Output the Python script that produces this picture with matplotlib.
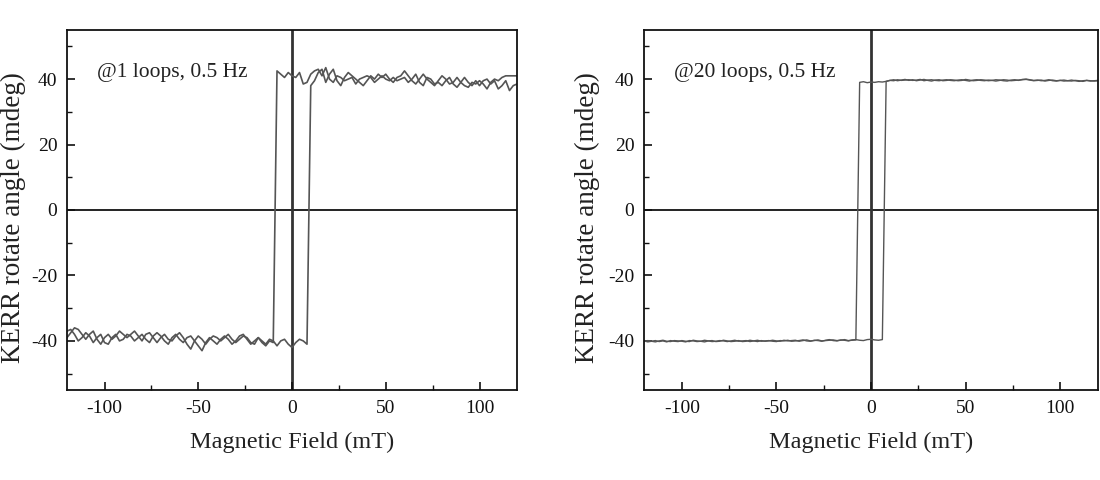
import numpy as np
import matplotlib
matplotlib.use("Agg")
import matplotlib.pyplot as plt
from matplotlib.ticker import MultipleLocator

plt.rcParams['font.family'] = ['Liberation Serif', 'DejaVu Serif']
plt.rcParams['axes.unicode_minus'] = False

# Magnetic field sampling grid (mT)
field = np.arange(-120, 121, 2)

# Left panel: @1 loops, 0.5 Hz
kerr1_up = [
    -39.0, -37.5, -36.0, -36.5, -38.0, -39.5, -38.0, -37.0, -39.5, -41.0,
    -39.0, -38.0, -39.5, -38.5, -37.0, -38.0, -39.0, -38.0, -37.0, -38.5,
    -40.0, -38.0, -37.5, -39.0, -40.5, -39.0, -38.0, -39.5, -40.0, -38.5,
    -37.5, -39.0, -41.0, -42.5, -40.0, -38.5, -39.5, -41.0, -39.5, -38.5,
    -39.0, -40.0, -39.0, -38.0, -39.5, -40.5, -39.5, -38.5, -39.0, -40.5,
    -41.0, -39.0, -40.0, -41.0, -39.5, -40.0, -41.5, -40.0, -39.5, -41.0,
    -42.0, -40.5, -39.5, -40.0, -41.0, 38.0, 39.5, 42.0, 43.0, 39.0,
    41.5, 43.0, 39.5, 38.0, 40.5, 42.0, 41.0, 40.0, 39.0, 38.0,
    39.5, 41.0, 40.0, 41.5, 40.5, 41.5, 40.0, 39.0, 40.5, 41.0,
    42.5, 41.0, 39.5, 38.5, 40.0, 41.5, 40.0, 39.0, 38.0, 39.5,
    41.0, 40.0, 38.5, 39.0, 40.5, 39.0, 38.0, 37.5, 39.0, 38.5,
    39.5, 38.5, 37.0, 39.0, 40.0, 39.5, 40.5, 41.0, 41.0, 41.0,
    41.0,
]
kerr1_down = [
    -37.0, -36.5, -38.0, -40.0, -39.0, -37.5, -38.5, -40.5, -39.0, -38.0,
    -40.5, -41.0, -39.0, -38.0, -40.0, -39.5, -38.0, -38.5, -40.0, -39.0,
    -38.0, -39.5, -40.5, -38.5, -37.5, -38.5, -40.0, -41.0, -39.0, -38.0,
    -39.5, -40.5, -39.0, -38.5, -40.0, -41.5, -43.0, -40.5, -39.0, -40.0,
    -41.0, -39.5, -38.5, -39.5, -41.0, -40.0, -38.5, -38.0, -39.5, -41.0,
    -40.0, -39.0, -40.5, -41.5, -40.0, -40.5, 42.5, 41.5, 40.5, 42.0,
    41.0, 40.5, 42.0, 38.5, 39.0, 41.5, 42.5, 43.0, 41.0, 43.5,
    40.0, 39.0, 41.0, 40.5, 39.5, 40.0, 40.5, 38.5, 40.0, 40.5,
    41.0, 40.5, 39.0, 40.0, 41.0, 40.0, 39.5, 40.5, 39.5, 40.0,
    40.5, 39.0, 40.0, 41.5, 39.0, 38.0, 40.5, 40.0, 38.5, 39.0,
    38.0, 39.5, 40.5, 38.5, 37.5, 39.0, 40.5, 39.0, 38.0, 39.5,
    38.0, 39.5, 40.0, 38.5, 39.5, 37.0, 38.0, 39.5, 36.5, 38.0,
    38.5,
]

# Right panel: @20 loops, 0.5 Hz
kerr20_up = [
    -40.2, -39.9, -40.1, -40.3, -40.0, -39.8, -40.1, -40.2, -39.9, -40.0,
    -40.1, -40.3, -39.9, -40.0, -40.2, -40.1, -39.8, -40.0, -40.2, -40.1,
    -39.9, -40.0, -40.2, -40.0, -39.8, -40.1, -40.0, -39.9, -40.2, -40.0,
    -39.8, -40.1, -40.0, -39.9, -40.1, -40.2, -39.9, -40.0, -39.8, -40.1,
    -40.0, -39.9, -39.7, -40.0, -40.1, -39.8, -39.9, -40.1, -39.8, -39.6,
    -39.9, -40.0, -39.7, -39.8, -40.0, -39.7, -39.6, -39.8, -39.9, -39.6,
    -39.5, -39.7, -39.8, -39.6, 39.3, 39.6, 39.8, 39.5, 39.7, 39.9,
    39.6, 39.8, 39.5, 39.7, 39.9, 39.6, 39.4, 39.7, 39.8, 39.5,
    39.6, 39.8, 39.7, 39.5, 39.6, 39.9, 39.7, 39.5, 39.6, 39.8,
    39.7, 39.5, 39.6, 39.8, 39.7, 39.5, 39.4, 39.7, 39.8, 39.6,
    39.9, 40.0, 39.8, 39.6, 39.7, 39.5, 39.6, 39.8, 39.5, 39.4,
    39.6, 39.7, 39.5, 39.4, 39.6, 39.5, 39.3, 39.6, 39.5, 39.4,
    39.5,
]
kerr20_down = [
    -40.0, -40.3, -40.1, -39.9, -40.2, -40.0, -40.3, -39.9, -40.1, -40.2,
    -39.9, -40.1, -40.2, -39.8, -40.0, -40.1, -40.3, -40.0, -39.9, -40.2,
    -40.1, -39.8, -40.0, -40.2, -40.1, -39.9, -40.2, -40.1, -39.8, -40.0,
    -40.2, -39.9, -40.1, -40.0, -39.8, -40.0, -40.1, -39.8, -40.0, -39.9,
    -39.8, -40.1, -39.9, -39.7, -40.0, -39.9, -39.7, -40.0, -39.9, -39.8,
    -39.7, -39.9, -39.8, -39.6, -39.9, -39.8, -39.7, 39.0, 39.2, 38.9,
    39.1, 39.0, 39.2, 39.1, 39.3, 39.6, 39.5, 39.8, 39.6, 39.7,
    39.8, 39.6, 39.7, 39.9, 39.5, 39.7, 39.8, 39.6, 39.5, 39.7,
    39.8, 39.6, 39.5, 39.7, 39.8, 39.6, 39.4, 39.7, 39.8, 39.6,
    39.5, 39.7, 39.6, 39.4, 39.6, 39.8, 39.7, 39.5, 39.6, 39.7,
    39.8, 39.9, 39.7, 39.5, 39.6, 39.7, 39.4, 39.6, 39.7, 39.5,
    39.6, 39.4, 39.5, 39.7, 39.5, 39.3, 39.5, 39.6, 39.4, 39.5,
    39.6,
]

panels = [
    ("@1 loops, 0.5 Hz", kerr1_up, kerr1_down, 1.2, -0.092),
    ("@20 loops, 0.5 Hz", kerr20_up, kerr20_down, 1.0, -0.097),
]

fig = plt.figure(figsize=(11, 4.8), dpi=100)
axes_pos = [
    [67 / 1100, 90 / 480, 450 / 1100, 360 / 480],
    [644 / 1100, 90 / 480, 454 / 1100, 360 / 480],
]

for pos, (label, up, down, lw, ylab_x) in zip(axes_pos, panels):
    ax = fig.add_axes(pos)
    ax.axhline(0, color='#222222', lw=1.4, zorder=1)
    ax.axvline(0, color='#333333', lw=2.0, zorder=1)
    ax.plot(field, up, color='#555555', lw=lw, zorder=2)
    ax.plot(field, down, color='#555555', lw=lw, zorder=2)
    ax.set_xlim(-120, 120)
    ax.set_ylim(-55, 55)
    ax.xaxis.set_major_locator(MultipleLocator(50))
    ax.xaxis.set_minor_locator(MultipleLocator(25))
    ax.yaxis.set_major_locator(MultipleLocator(20))
    ax.yaxis.set_minor_locator(MultipleLocator(10))
    ax.tick_params(which='both', direction='in', labelsize=14, colors='#111111')
    ax.tick_params(which='major', length=6, width=1.2, pad=7)
    ax.tick_params(which='minor', length=3.5, width=1.0)
    for s in ax.spines.values():
        s.set_linewidth(1.3)
        s.set_color('#111111')
    ax.set_xlabel("Magnetic Field (mT)", fontsize=17.5, color='#222222', labelpad=11)
    ax.set_ylabel("KERR rotate angle (mdeg)", fontsize=19.5, color='#222222')
    ax.yaxis.set_label_coords(ylab_x, 0.48)
    ax.text(-104, 42, label, fontsize=15.5, va='center', ha='left', color='#222222')

fig.savefig("out.png", dpi=100)
